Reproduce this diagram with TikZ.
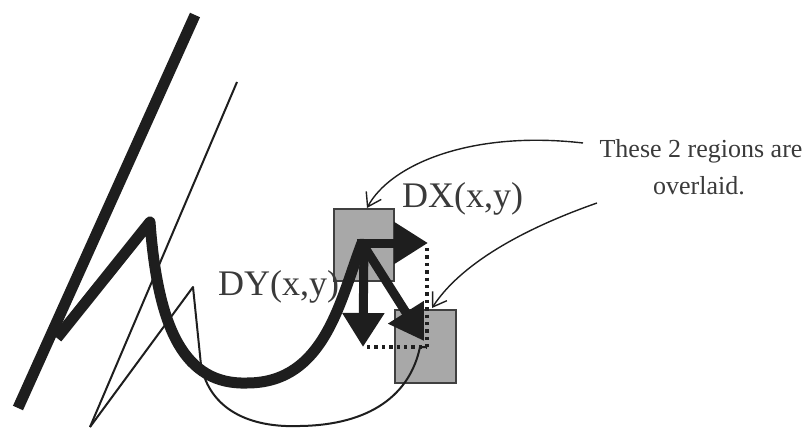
\documentclass[tikz,border=0pt]{standalone}
\usepackage{fontspec}
\setmainfont{Liberation Serif}
\usetikzlibrary{arrows.meta}
\definecolor{ink}{HTML}{1E1E1E}
\definecolor{txt}{HTML}{3A3A3A}
\definecolor{region}{HTML}{A8A8A8}

\begin{document}
\begin{tikzpicture}[
    x=1pt, y=-1pt,
    stroke/.style={draw=ink, line width=11pt, line join=round},
    trace/.style={draw=ink, line width=2pt, line join=round},
    patch/.style={draw=ink!85, fill=region, line width=1.6pt, inner sep=0pt},
    grad/.style={-{Triangle[length=34pt,width=40pt]}, ink, line width=9pt},
    guide/.style={ink, line width=3.4pt, dash pattern=on 3.4pt off 4pt},
    callout/.style={-{Straight Barb[length=13pt,width=17pt]}, ink, line width=1.4pt},
    lab/.style={text=txt, font=\fontsize{36}{40}\selectfont, inner sep=0pt, anchor=base west},
    note/.style={text=txt, font=\fontsize{26}{30}\selectfont, inner sep=0pt, anchor=base},
]
\useasboundingbox (0,0) rectangle (809,428);

% The two overlaid regions.
\node[patch, minimum width=60pt, minimum height=72pt] (r1) at (364,245) {};
\node[patch, minimum width=61pt, minimum height=73pt] (r2) at (425.5,346.5) {};

% Thin trace.
\coordinate (t0) at (90,427);
\coordinate (t1) at (237,82);
\coordinate (t2) at (193,287);
\coordinate (t3) at (201,365);
\coordinate (t4) at (300,426);
\coordinate (t5) at (420,347);
\coordinate (c) at (427,347);
\draw[trace] (t0) -- (t1);
\draw[trace] (t0) -- (t2) -- (t3) .. controls (210,410) and (250,428) .. (t4)
  .. controls (370,425) and (410,395) .. (t5) -- (c);

% Labels.
\node[lab] (dx) at (402,207) {DX(x,y)};
\node[lab] (dy) at (218,295) {DY(x,y)};
\node[note] (note1) at (701,157) {These 2 regions are};
\node[note] (note2) at (699,194) {overlaid.};

% Thick trace.
\coordinate (s0) at (195,15);
\coordinate (s1) at (18,408);
\coordinate (k0) at (57,338);
\coordinate (k1) at (150,222);
\coordinate (k2) at (247,383);
\coordinate (o) at (362,243);
\draw[stroke] (s0) -- (s1);
\draw[stroke] (k0) -- (k1) .. controls (158,330) and (185,385) .. (k2)
  .. controls (325,383) and (340,300) .. (o);

% Gradient arrows.
\coordinate (ex) at (428,243);
\coordinate (ey) at (363,347);
\coordinate (ed) at (424,341);
\draw[grad] (357,243) -- (ex);
\draw[grad] (364,239) -- (ey);
\draw[grad] (o) -- (ed);
\draw[guide] (427,248) -- (c);
\draw[guide] (367,347) -- (c);

% Callouts.
\coordinate (a0) at (583,143);
\coordinate (b0) at (597,203);
\draw[callout] (a0) .. controls (470,130) and (390,165) .. (367,208);
\draw[callout] (b0) .. controls (520,230) and (460,265) .. (432,308);
\end{tikzpicture}
\end{document}
